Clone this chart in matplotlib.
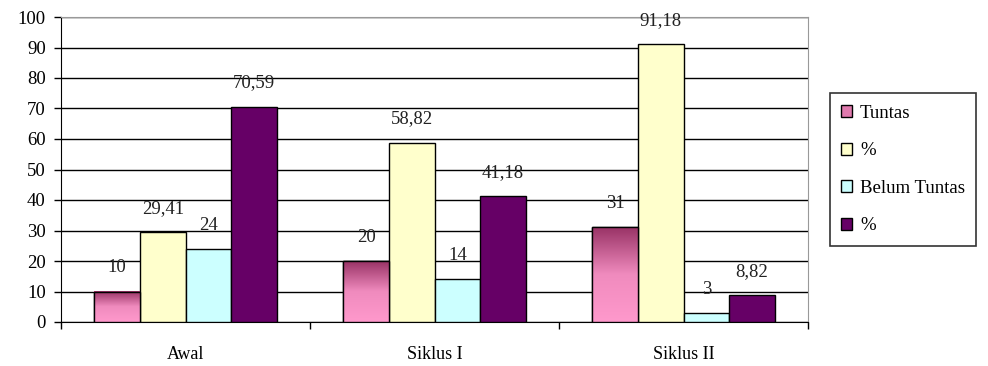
import numpy as np
import matplotlib.pyplot as plt
from matplotlib.colors import LinearSegmentedColormap

categories = ['Awal', 'Siklus I', 'Siklus II']
tuntas = [10, 20, 31]
tuntas_pct = [29.41, 58.82, 91.18]
belum = [24, 14, 3]
belum_pct = [70.59, 41.18, 8.82]
labels = ['Tuntas', '%', 'Belum Tuntas', '%']

plt.rcParams['font.family'] = ['Liberation Serif', 'DejaVu Serif']

fig = plt.figure(figsize=(9.88, 3.66), dpi=100)
ax = fig.add_axes([61 / 988, 44 / 366, 747 / 988, 305 / 366])

x = np.arange(len(categories))
w = 0.183
series = [tuntas, tuntas_pct, belum, belum_pct]
colors = ['#E07AAE', '#FFFFCC', '#CCFFFF', '#660066']

bars = []
for i, vals in enumerate(series):
    b = ax.bar(x + (i - 1.5) * w, vals, w, color=colors[i], edgecolor='black',
               linewidth=1.0, label=labels[i], zorder=3)
    bars.append(b)

# gradient fill for the first series
cmap = LinearSegmentedColormap.from_list('pinkgrad', ['#FF99CC', '#F08BBE', '#993366'])
grad = np.linspace(0, 1, 256).reshape(-1, 1)
for p in bars[0]:
    x0, y0 = p.get_x(), p.get_y()
    ax.imshow(grad, cmap=cmap, origin='lower', aspect='auto',
              extent=(x0, x0 + p.get_width(), y0, y0 + p.get_height()), zorder=3.5)
    ax.add_patch(plt.Rectangle((x0, y0), p.get_width(), p.get_height(), fill=False,
                               edgecolor='black', linewidth=1.0, zorder=4))

def fmt(v):
    if float(v).is_integer():
        return str(int(v))
    return ('%.2f' % v).replace('.', ',')

for b, vals in zip(bars, series):
    for p, v in zip(b, vals):
        ax.annotate(fmt(v), (p.get_x() + p.get_width() / 2, v), xytext=(0, 17),
                    textcoords='offset points', ha='center', va='center',
                    fontsize=13.5, color='#222222', zorder=5)

ax.set_xlim(-0.5, 2.5)
ax.set_ylim(0, 100)
ax.set_yticks(range(0, 101, 10))
ax.tick_params(axis='y', labelsize=13.5, length=5, width=1, direction='out', pad=6)
ax.set_xticks(x)
ax.set_xticklabels(categories, fontsize=13)
ax.tick_params(axis='x', length=0, pad=17)
ax.set_xticks([-0.5, 0.5, 1.5, 2.5], minor=True)
ax.tick_params(axis='x', which='minor', length=5, width=1, direction='out')

ax.yaxis.grid(True, color='black', linewidth=1.0, zorder=0)
ax.set_axisbelow(True)
ax.spines['left'].set_color('black')
ax.spines['bottom'].set_color('black')
ax.spines['top'].set_color('#999999')
ax.spines['right'].set_color('#999999')

leg = ax.legend(loc='center left', bbox_to_anchor=((830 - 61) / 747, 0.50),
                fontsize=13.5, frameon=True, fancybox=False, edgecolor='black',
                handlelength=0.6, handleheight=0.6, handletextpad=0.4,
                labelspacing=1.1, borderpad=0.6, borderaxespad=0)
leg.get_frame().set_linewidth(1.2)
leg.legend_handles[0].set_facecolor('#E07AAE')

fig.savefig('out.png', dpi=100)
